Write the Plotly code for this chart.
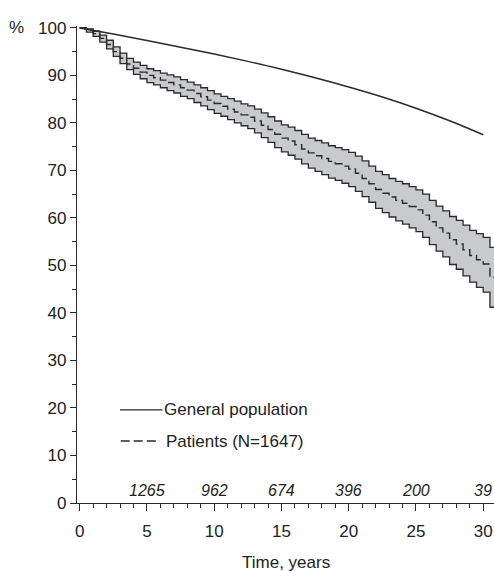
import plotly.graph_objects as go

# ---- data ----
km_time = [0, 0.5, 1, 1.5, 2, 2.5, 3, 3.5, 4, 4.5, 5, 5.5, 6, 6.5, 7, 7.5, 8, 8.5, 9, 9.5,
           10, 10.5, 11, 11.5, 12, 12.5, 13, 13.5, 14, 14.5, 15, 15.5, 16, 16.5, 17, 17.5,
           18, 18.5, 19, 19.5, 20, 20.5, 21, 21.5, 22, 22.5, 23, 23.5, 24, 24.5, 25, 25.5,
           26, 26.5, 27, 27.5, 28, 28.5, 29, 29.5, 30, 30.5, 30.8]
km_surv = [100, 99.5, 98.8, 97.8, 96.5, 95.0, 93.6, 92.4, 91.5, 90.7, 90.0, 89.5, 89.0, 88.5,
           88.0, 87.4, 86.9, 86.2, 85.5, 84.8, 84.1, 83.5, 82.9, 82.3, 81.7, 81.2, 80.4, 79.5,
           78.6, 77.6, 76.8, 76.2, 75.4, 74.5, 73.7, 73.1, 72.5, 71.9, 71.4, 70.9, 70.3, 69.4,
           68.3, 67.2, 66.0, 65.2, 64.4, 63.7, 63.1, 62.4, 61.7, 60.6, 59.2, 57.9, 56.8, 55.4,
           54.5, 53.3, 52.1, 51.2, 50.3, 47.5, 47.5]
km_upper = [100, 99.8, 99.3, 98.5, 97.4, 96.0, 94.7, 93.6, 92.8, 92.1, 91.4, 91.0, 90.5, 90.1,
            89.7, 89.1, 88.6, 88.0, 87.4, 86.8, 86.1, 85.6, 85.1, 84.6, 84.0, 83.6, 82.9, 82.1,
            81.3, 80.4, 79.6, 79.1, 78.4, 77.6, 76.8, 76.3, 75.8, 75.2, 74.8, 74.4, 73.8, 73.0,
            72.0, 70.9, 69.8, 69.1, 68.3, 67.7, 67.2, 66.6, 65.9, 65.0, 63.7, 62.5, 61.5, 60.3,
            59.5, 58.5, 57.4, 56.7, 55.9, 53.8, 53.8]
km_lower = [100, 99.1, 98.2, 97.0, 95.6, 94.0, 92.5, 91.2, 90.2, 89.3, 88.5, 88.0, 87.4, 86.8,
            86.3, 85.6, 85.1, 84.3, 83.6, 82.8, 82.0, 81.4, 80.7, 80.0, 79.4, 78.8, 77.9, 76.9,
            75.9, 74.8, 73.9, 73.2, 72.4, 71.4, 70.5, 69.8, 69.1, 68.4, 67.9, 67.3, 66.6, 65.6,
            64.5, 63.3, 62.0, 61.1, 60.2, 59.4, 58.7, 57.9, 57.1, 55.9, 54.4, 53.0, 51.8, 50.2,
            49.2, 47.8, 46.5, 45.4, 44.4, 41.2, 41.2]

pop_time = [0, 2.5, 5, 7.5, 10, 12.5, 15, 17.5, 20, 22.5, 25, 27.5, 30]
pop_surv = [100, 98.7, 97.35, 95.95, 94.5, 92.95, 91.3, 89.5, 87.55, 85.45, 83.1, 80.45, 77.5]

risk_time = [5, 10, 15, 20, 25, 30]
risk_n = [1265, 962, 674, 396, 200, 39]

x_ticks = [0, 5, 10, 15, 20, 25, 30]
y_ticks = [0, 10, 20, 30, 40, 50, 60, 70, 80, 90, 100]
y_ticktext = ["0", "10", "20", "30", "40", "50", "60", "70", "80", "90", "100"]

legend_names = ["General population", "Patients (N=1647)"]

# ---- style ----
INK = "#2a2a2a"
FONT = "Liberation Sans, Arial, sans-serif"

fig = go.Figure()

fig.add_trace(go.Scatter(x=km_time, y=km_lower, mode="lines", line=dict(shape="hv", color=INK, width=1.3),
                         showlegend=False, hoverinfo="skip"))
fig.add_trace(go.Scatter(x=km_time, y=km_upper, mode="lines", line=dict(shape="hv", color=INK, width=1.3),
                         fill="tonexty", fillcolor="#c9cacc", showlegend=False, hoverinfo="skip"))
fig.add_trace(go.Scatter(x=km_time, y=km_surv, mode="lines", name=legend_names[1],
                         line=dict(shape="hv", color=INK, width=1.4, dash="9px,4px"), showlegend=False))
fig.add_trace(go.Scatter(x=pop_time, y=pop_surv, mode="lines", name=legend_names[0],
                         line=dict(shape="spline", smoothing=1.0, color=INK, width=1.5), showlegend=False))

# legend drawn manually
fig.add_shape(type="line", x0=3.0, x1=6.15, y0=19.6, y1=19.6, xref="x", yref="y",
              line=dict(color=INK, width=1.4))
fig.add_shape(type="line", x0=3.05, x1=5.96, y0=13.05, y1=13.05, xref="x", yref="y",
              line=dict(color=INK, width=1.4, dash="9px,4px"))
fig.add_annotation(x=6.15, y=19.6, xref="x", yref="y", text=legend_names[0], showarrow=False,
                   xanchor="left", yanchor="middle", font=dict(family=FONT, size=17, color="#222"))
fig.add_annotation(x=6.3, y=13.05, xref="x", yref="y", text=legend_names[1], showarrow=False,
                   xanchor="left", yanchor="middle", font=dict(family=FONT, size=17, color="#222"))

# numbers at risk
for t, n in zip(risk_time, risk_n):
    fig.add_annotation(x=t, y=2.6, xref="x", yref="y", text=f"<i>{n}</i>", showarrow=False,
                       xanchor="center", yanchor="middle", font=dict(family=FONT, size=16, color="#222"))

# "%" label and x title
fig.add_annotation(x=-0.144, y=100, xref="paper", yref="y", text="%", showarrow=False,
                   xanchor="center", yanchor="middle", font=dict(family=FONT, size=17, color="#222"))
fig.add_annotation(x=15.3, y=-0.124, xref="x", yref="paper", text="Time, years", showarrow=False,
                   xanchor="center", yanchor="middle", font=dict(family=FONT, size=17, color="#222"))

fig.update_layout(
    width=494, height=571,
    margin=dict(l=77, r=0, t=26, b=68),
    paper_bgcolor="white", plot_bgcolor="white",
    font=dict(family=FONT, size=17, color="#222"),
    xaxis=dict(range=[-0.2, 30.8], tickmode="array", tickvals=x_ticks, ticks="outside",
               ticklen=7, tickwidth=1.3, tickcolor=INK, showline=True, linecolor=INK, linewidth=1.3,
               showgrid=False, zeroline=False, ticklabelstandoff=5,
               minor=dict(dtick=1, tick0=0, ticks="outside", ticklen=4, tickwidth=1.2, tickcolor=INK,
                          showgrid=False)),
    yaxis=dict(range=[0, 100.4], tickmode="array", tickvals=y_ticks, ticktext=y_ticktext,
               ticks="outside", ticklen=6, tickwidth=1.3, tickcolor=INK, showline=True,
               linecolor=INK, linewidth=1.3, showgrid=False, zeroline=False,
               minor=dict(dtick=5, tick0=0, ticks="outside", ticklen=4, tickwidth=1.2, tickcolor=INK,
                          showgrid=False)),
    showlegend=False,
)

fig.write_html("out.html")
